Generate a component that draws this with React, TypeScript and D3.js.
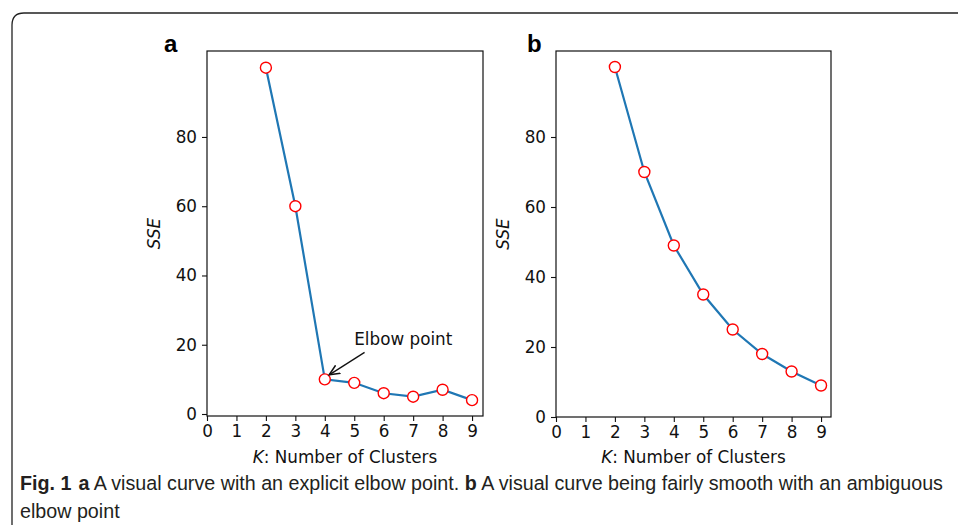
import React, { useEffect, useRef } from "react";
import * as d3 from "d3";

const clusters = [2, 3, 4, 5, 6, 7, 8, 9];
const sseA = [100, 60, 10, 9, 6, 5, 7, 4];
const sseB = [100, 70, 49, 35, 25, 18, 13, 9];
const xTicks = [0, 1, 2, 3, 4, 5, 6, 7, 8, 9];
const yTicks = [0, 20, 40, 60, 80];

const App = () => {
  const ref = useRef<SVGSVGElement>(null);

  useEffect(() => {
    const svg = d3.select(ref.current);
    svg.selectAll("*").remove();
    const fs = 16.8;

    // frame with rounded corner
    svg.append("path")
      .attr("d", "M12,600 L12,25 Q12,13 24,13 L970,13")
      .attr("fill", "none")
      .attr("stroke", "#222")
      .attr("stroke-width", 1.3);

    const panels = [
      { label: "a", data: sseA, left: 207, right: 483, top: 51, bottom: 416, zeroY: 414, labelX: 164, sseX: 160 },
      { label: "b", data: sseB, left: 556, right: 831, top: 51, bottom: 417, zeroY: 417, labelX: 527, sseX: 509 },
    ];

    panels.forEach((p, i) => {
      const x = d3.scaleLinear().domain([0, 9]).range([p.left, p.left + 9 * 29.45]);
      const ySpan = i === 0 ? 3.463 : 3.5;
      const y = d3.scaleLinear().domain([0, 80]).range([p.zeroY, p.zeroY - 80 * ySpan]);
      const g = svg.append("g");

      const line = d3.line<number>()
        .x((d, j) => x(clusters[j]))
        .y(d => y(d));

      g.append("path")
        .datum(p.data)
        .attr("d", line)
        .attr("fill", "none")
        .attr("stroke", "#1f77b4")
        .attr("stroke-width", 2.2);

      g.selectAll("circle")
        .data(p.data)
        .enter()
        .append("circle")
        .attr("cx", (d, j) => x(clusters[j]))
        .attr("cy", d => y(d))
        .attr("r", 5.5)
        .attr("fill", "white")
        .attr("stroke", "red")
        .attr("stroke-width", 1.4);

      g.append("rect")
        .attr("x", p.left)
        .attr("y", p.top)
        .attr("width", p.right - p.left)
        .attr("height", p.bottom - p.top)
        .attr("fill", "none")
        .attr("stroke", "#111")
        .attr("stroke-width", 1.2);

      const xAxis = g.append("g")
        .attr("transform", `translate(0,${p.bottom})`)
        .call(d3.axisBottom(x).tickValues(xTicks).tickSize(5).tickPadding(4).tickFormat(d3.format("d")));
      xAxis.select(".domain").remove();

      const yAxis = g.append("g")
        .attr("transform", `translate(${p.left},0)`)
        .call(d3.axisLeft(y).tickValues(yTicks).tickSize(5).tickPadding(5).tickFormat(d3.format("d")));
      yAxis.select(".domain").remove();

      [xAxis, yAxis].forEach(ax => {
        ax.attr("font-size", fs).attr("font-family", "DejaVu Sans");
        ax.selectAll("text").attr("fill", "#111");
        ax.selectAll("line").attr("stroke", "#111").attr("stroke-width", 1.1);
      });

      const xl = g.append("text")
        .attr("x", (p.left + p.right) / 2)
        .attr("y", 463)
        .attr("text-anchor", "middle")
        .attr("font-family", "DejaVu Sans")
        .attr("font-size", fs)
        .attr("fill", "#111");
      xl.append("tspan").attr("font-style", "italic").text("K");
      xl.append("tspan").text(": Number of Clusters");

      g.append("text")
        .attr("transform", `translate(${p.sseX},${(p.top + p.bottom) / 2}) rotate(-90)`)
        .attr("text-anchor", "middle")
        .attr("font-family", "DejaVu Sans")
        .attr("font-style", "italic")
        .attr("font-size", fs)
        .attr("fill", "#111")
        .text("SSE");

      g.append("text")
        .attr("x", p.labelX)
        .attr("y", 52)
        .attr("font-family", "Liberation Sans")
        .attr("font-weight", "bold")
        .attr("font-size", 24)
        .attr("fill", "#000")
        .text(p.label);

      if (i === 0) {
        const tx = x(4.15), ty = y(11.3);
        const sx = x(5.35), sy = y(17.8);
        svg.append("defs").append("marker")
          .attr("id", "arrowhead")
          .attr("viewBox", "0 0 10 10")
          .attr("refX", 9)
          .attr("refY", 5)
          .attr("markerWidth", 9)
          .attr("markerHeight", 9)
          .attr("orient", "auto")
          .append("path")
          .attr("d", "M0,1 L9,5 L0,9")
          .attr("fill", "none")
          .attr("stroke", "#111")
          .attr("stroke-width", 1.3);
        g.append("line")
          .attr("x1", sx).attr("y1", sy)
          .attr("x2", tx).attr("y2", ty)
          .attr("stroke", "#111")
          .attr("stroke-width", 1.3)
          .attr("marker-end", "url(#arrowhead)");
        g.append("text")
          .attr("x", x(5.0))
          .attr("y", y(20))
          .attr("font-family", "DejaVu Sans")
          .attr("font-size", fs)
          .attr("fill", "#111")
          .text("Elbow point");
      }
    });

    // caption
    const capFont = "Liberation Sans Narrow, Liberation Sans";
    const cap = svg.append("text")
      .attr("x", 20)
      .attr("y", 490)
      .attr("font-family", capFont)
      .attr("font-size", 19.7)
      .attr("fill", "#231f20");
    cap.append("tspan").attr("font-weight", "bold").text("Fig. 1");
    cap.append("tspan").attr("dx", 7).attr("font-weight", "bold").text("a");
    cap.append("tspan").text(" A visual curve with an explicit elbow point. ");
    cap.append("tspan").attr("font-weight", "bold").text("b");
    cap.append("tspan").text(" A visual curve being fairly smooth with an ambiguous");

    svg.append("text")
      .attr("x", 20)
      .attr("y", 518)
      .attr("font-family", capFont)
      .attr("font-size", 19.7)
      .attr("fill", "#231f20")
      .text("elbow point");
  }, []);

  return (
    <svg
      ref={ref}
      width={958}
      height={525}
      style={{ position: "absolute", left: 0, top: 0, background: "white" }}
    />
  );
};

export default App;
